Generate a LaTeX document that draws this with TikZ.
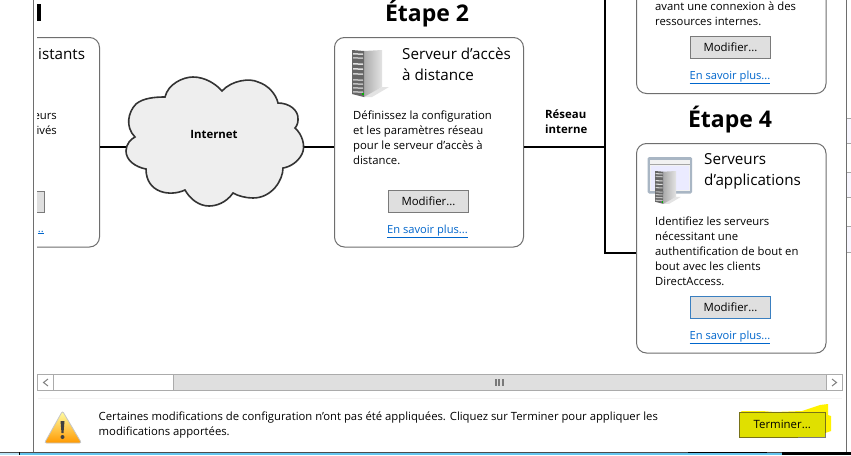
\documentclass[tikz,border=0pt]{standalone}
\usepackage{fontspec}
\setmainfont{Open Sans}
\usetikzlibrary{calc}
\definecolor{cardline}{HTML}{6E6E6E}
\definecolor{btnfill}{HTML}{DFDFDF}
\definecolor{btnline}{HTML}{7A7A7A}
\definecolor{linkblue}{HTML}{0066CC}
\definecolor{focusblue}{HTML}{3A7FC0}
\definecolor{scrolline}{HTML}{ABABAB}
\definecolor{taskblue}{HTML}{63C5EE}
\definecolor{cloudfill}{HTML}{EEEEEE}
\definecolor{frameblue}{HTML}{A9B6C4}
\tikzset{x=1pt, y=-1pt,
 card/.style={draw=cardline, line width=1pt, rounded corners=10pt, inner sep=0pt, fill=white},
 wire/.style={draw=black, line width=2pt},
 stepttl/.style={font=\fontsize{23}{26}\selectfont\bfseries, anchor=base, inner sep=0pt},
 cardttl/.style={font=\fontsize{15.2}{21}\selectfont, anchor=north west, align=left, inner sep=0pt},
 bodytxt/.style={font=\fontsize{11.3}{15}\selectfont, anchor=north west, align=left, inner sep=0pt},
 boldtxt/.style={font=\fontsize{11.4}{15}\selectfont\bfseries, inner sep=0pt},
 modbtn/.style={draw=btnline, fill=btnfill, line width=1pt, minimum width=80pt, minimum height=21.5pt, inner sep=0pt, font=\fontsize{11.4}{13}\selectfont},
 morelink/.style={font=\fontsize{11.15}{13}\selectfont, text=linkblue, anchor=base, inner sep=0pt},
 towericon/.pic={
  \fill[gray!22] (12,47) -- (30,37) -- (37,37) -- (20,47) -- cycle;
  \shade[left color=gray!65, right color=gray!22] (12,1) -- (30,0) -- (30,37) -- (12,47) -- cycle;
  \fill[gray!80!black] (0,0) -- (12,1) -- (12,47) -- (0,44) -- cycle;
  \foreach \y/\c in {3/30, 7/50, 13/25, 18/25, 23/40, 29/50, 33/50, 37/50, 41/50} {
   \fill[gray!\c] (1,\y) -- (11,\y+.5) -- (11,\y+2) -- (1,\y+1.5) -- cycle;
  }
  \fill[green!70!black] (9.5,43) rectangle (11.5,45);
 },
}
\begin{document}
\begin{tikzpicture}
\clip (0,0) rectangle (851,455);
\fill[white] (0,0) rectangle (851,455);
\begin{scope}
 \clip (37,0) rectangle (851,455);
 \fill (37,4) rectangle (41,20.5);
 \node[card, minimum width=100pt, minimum height=209.5pt] (cardclient) at (49.5,142.25) {};
 \node[font=\fontsize{15.2}{21}\selectfont, anchor=base west, inner sep=0pt] (ttlclient) at (38,59) {istants};
 \node[font=\fontsize{11.3}{13}\selectfont, anchor=base east, inner sep=0pt] (txtclienta) at (57,119) {eurs};
 \node[font=\fontsize{11.3}{13}\selectfont, anchor=base east, inner sep=0pt] (txtclientb) at (57,134) {tivés};
 \node[modbtn, anchor=north east] (btnclient) at (44.5,190.5) {};
 \node[morelink, anchor=base east] (linkclient) at (44,232) {\underline{..}};
\end{scope}
\coordinate (cloudc) at (214,147);
\node[card, minimum width=189pt, minimum height=209.5pt] (cardserver) at (429,142.25) {};
\node[card, minimum width=189.5pt, minimum height=209.5pt] (cardgroups) at (731.25,-11.25) {};
\node[card, minimum width=189.5pt, minimum height=209.5pt] (cardapps) at (731.25,248.25) {};
\coordinate (bustop) at (605,-2);
\coordinate (busend) at (605,253);
\draw[wire] (cardclient.east |- cloudc) -- (cloudc);
\draw[wire] (cloudc) -- (cardserver.west |- cloudc);
\draw[wire] (cardserver.east |- cloudc) -- (bustop |- cloudc);
\draw[wire] (bustop) -- (busend) -- (cardapps.west |- busend);
\draw[line width=1.6pt, draw=black!80, fill=cloudfill]
 (165,97) .. controls (168,84) and (183,77) .. (193,77)
 .. controls (205,77) and (216,84) .. (222,91)
 .. controls (232,80) and (250,78) .. (258,82)
 .. controls (268,85) and (276,94) .. (278,103)
 .. controls (289,103) and (299,110) .. (298,120)
 .. controls (298,124) and (296,127) .. (295,128)
 .. controls (302,134) and (306,146) .. (302,154)
 .. controls (298,162) and (290,167) .. (283,168)
 .. controls (283,180) and (272,198) .. (253,198)
 .. controls (246,198) and (238,196) .. (233,193)
 .. controls (226,203) and (216,206) .. (209,206)
 .. controls (199,206) and (190,199) .. (185,190)
 .. controls (170,197) and (146,193) .. (146,169)
 .. controls (135,167) and (126,160) .. (126,151)
 .. controls (126,144) and (131,139) .. (135,137)
 .. controls (125,127) and (128,112) .. (136,104)
 .. controls (143,98) and (155,97) .. (165,97) -- cycle;
\node[boldtxt] (internet) at (214,134) {Internet};
\node[stepttl] (steptwo) at (427,21) {Étape 2};
\node[stepttl] (stepfour) at (730,127) {Étape 4};
\node[boldtxt, anchor=base west, align=left] (lanlbl) at (545,118) {Réseau};
\node[boldtxt, anchor=base west, align=left] (lanlblb) at (545,133) {interne};
\pic at (352,50) {towericon};
\fill[frameblue, rounded corners=1.5pt] (647.5,157) rectangle (692,193.5);
\fill[gray!10] (650,159.5) rectangle (689.5,190.5);
\fill[white!92!blue] (650.5,165.5) rectangle (689,190);
\draw[gray!70] (650,164.5) -- (689.5,164.5);
\pic[scale=.7] at (655,171) {towericon};
\node[cardttl] (ttlserver) at (402,47.5) {Serveur d’accès\\à distance};
\node[bodytxt] (txtserver) at (353,111) {Définissez la configuration\\et les paramètres réseau\\pour le serveur d’accès à\\distance.};
\node[modbtn] (btnserver) at (428.5,201.25) {Modifier...};
\node[morelink] (linkserver) at (427.5,233) {\underline{En savoir plus...}};
\node[bodytxt] (txtgroups) at (655,2) {avant une connexion à des\\ressources internes.};
\node[modbtn] (btngroups) at (730.5,47.25) {Modifier...};
\node[morelink] (linkgroups) at (730,79) {\underline{En savoir plus...}};
\node[cardttl] (ttlapps) at (704,153.5) {Serveurs\\d’applications};
\node[bodytxt] (txtapps) at (655,217) {Identifiez les serveurs\\nécessitant une\\authentification de bout en\\bout avec les clients\\DirectAccess.};
\node[modbtn, draw=focusblue] (btnapps) at (730.5,307.25) {Modifier...};
\node[morelink] (linkapps) at (730,339) {\underline{En savoir plus...}};
\fill[white] (34,374) rectangle (846,452);
\fill[btnfill] (173,374.5) rectangle (826,390);
\draw[scrolline] (37.5,374.5) rectangle (842,390);
\draw[scrolline] (53.5,374.5) -- (53.5,390);
\draw[scrolline] (173.5,374.5) -- (173.5,390);
\draw[scrolline] (826,374.5) -- (826,390);
\draw[gray, line width=1pt] (48,379) -- (43.5,382.5) -- (48,386);
\draw[gray, line width=1pt] (832,379) -- (836.5,382.5) -- (832,386);
\foreach \x in {495.5, 499, 502.5} {
 \fill[gray!95!black] (\x-1,379) rectangle (\x+1,385.5);
}
\draw[line width=1.5pt, draw=red!5!gray!8] (38,398.5) -- (842,398.5);
\shade[top color=yellow!35, bottom color=orange!80!yellow, draw=gray!45, line width=.8pt, rounded corners=2pt] (62.5,411) -- (81.5,443) -- (44.5,443) -- cycle;
\fill[black!75] (60.5,421) -- (64.5,421) -- (63.5,433) -- (61.5,433) -- cycle;
\fill[black!75] (62.5,437) circle (2pt);
\node[bodytxt] (txtwarn) at (98.5,412) {Certaines modifications de configuration n’ont pas été appliquées. Cliquez sur Terminer pour appliquer les\\modifications apportées.};
\fill[yellow] (739.5,413) -- (742,411) -- (762,411) -- (775,412) -- (802,411) -- (820,405) -- (828,404) -- (828,415) -- (831,416) -- (831,431) -- (825,433) -- (825,436) -- (798,436.5) -- (763,437) -- (739.5,437) -- cycle;
\node[modbtn, draw=olive!80!black, fill={rgb,255:red,224;green,224;blue,0}, minimum width=85.5pt, minimum height=25pt] (btnfinish) at (782.25,424.5) {Terminer...};
\draw[btnline, line width=1pt] (798,437) -- (825,437) -- (825,433);
\draw[cardline, line width=1pt] (33.5,0) -- (33.5,452);
\draw[cardline, line width=1pt] (846.5,0) -- (846.5,452);
\foreach \a/\b in {118/143, 172/197, 226/252} {
 \fill[red!3!blue!3!white] (847,\a) rectangle (851,\b);
 \draw[gray!70] (847,\a) -- (851,\a) (847,\b) -- (851,\b);
}
\fill[taskblue] (0,452) rectangle (851,455);
\fill[taskblue!45] (0,452) rectangle (19,455);
\draw[black!70, line width=1pt] (0,452.5) -- (851,452.5);
\draw[black, line width=1pt] (19.5,452) -- (19.5,455);
\fill[black] (688,452) rectangle (767,453);
\fill[black] (782,452) rectangle (851,455);
\end{tikzpicture}
\end{document}
